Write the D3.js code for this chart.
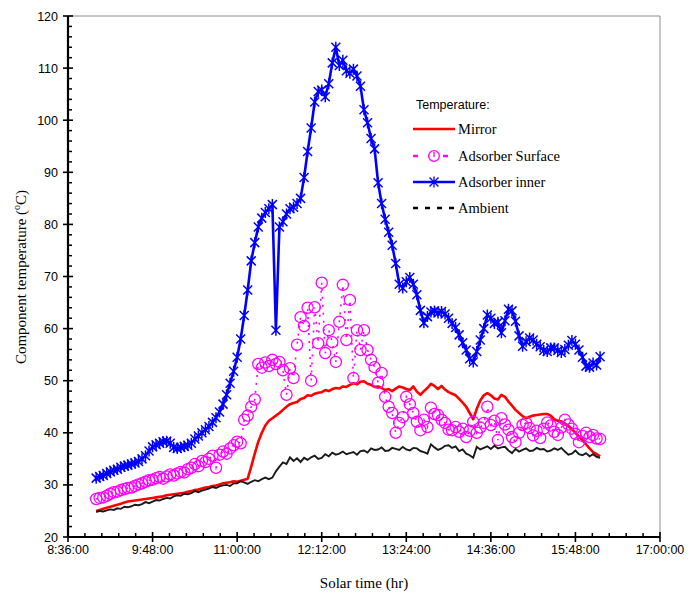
<!DOCTYPE html>
<html><head><meta charset="utf-8">
<script src="https://cdn.jsdelivr.net/npm/d3@7"></script>
<style>
html,body{margin:0;padding:0;background:#fff;}
svg{display:block;}
</style>
</head><body>
<svg id="chart" width="696" height="597"></svg>
<script>
// ---- data (minutes since midnight, °C) ----
const times = [540,543,546,549,552,555,558,561,564,567,570,573,576,579,582,585,588,591,594,597,
600,603,606,609,612,615,618,621,624,627,630,633,636,639,642,645,648,651,654,657,
660,663,666,669,672,675,678,681,684,687,690,693,696,699,702,705,708,711,714,717,
720,723,726,729,732,735,738,741,744,747,750,753,756,759,762,765,768,771,774,777,
780,783,786,789,792,795,798,801,804,807,810,813,816,819,822,825,828,831,834,837,
840,843,846,849,852,855,858,861,864,867,870,873,876,879,882,885,888,891,894,897,
900,903,906,909,912,915,918,921,924,927,930,933,936,939,942,945,948,951,954,957,
960,963,966,969];

const mirror = [25.0,25.2,25.4,25.6,25.8,26.0,26.2,26.4,26.6,26.8,26.9,27.0,27.1,27.2,27.3,27.4,27.5,27.6,27.7,27.8,
28.0,28.1,28.2,28.3,28.4,28.5,28.7,28.8,29.0,29.1,29.3,29.5,29.6,29.8,29.9,30.1,30.3,30.4,30.5,30.7,
30.6,30.8,31.0,31.2,33.5,36.0,38.3,40.0,41.4,42.3,42.8,43.3,43.8,44.4,45.0,45.5,45.7,45.9,46.5,46.7,
47.2,47.1,47.5,47.7,47.8,48.2,48.0,48.4,48.6,48.5,48.9,48.8,49.2,49.5,49.3,49.8,49.9,49.4,49.2,48.8,
48.9,48.6,48.2,48.4,48.0,48.5,48.9,48.7,48.4,48.2,48.9,47.9,47.3,48.0,48.6,49.4,49.0,48.4,49.0,48.3,
47.8,47.5,47.2,46.5,45.8,45.0,43.8,42.6,44.6,46.2,47.2,47.6,47.2,46.6,46.4,47.3,46.9,46.0,45.2,44.4,
43.8,43.2,42.8,43.1,43.3,43.4,43.5,43.6,43.6,43.3,42.6,42.3,42.2,41.8,41.3,40.7,40.0,39.3,38.6,37.8,
37.0,36.3,35.9,35.5];

const surface = [27.3,27.5,27.6,27.9,28.3,28.6,28.7,29.0,29.2,29.4,29.5,29.8,30.1,30.3,30.6,30.9,31.0,31.3,31.5,31.2,
31.6,32.0,31.8,32.2,32.5,32.4,33.0,33.3,34.0,33.6,34.6,34.4,35.0,35.6,33.3,35.8,36.4,36.0,37.0,37.6,
38.3,38.0,42.5,43.3,45.0,46.4,53.2,52.5,53.5,52.8,54.0,53.2,53.6,52.0,47.3,52.4,50.5,56.9,62.2,60.5,
64.0,50.0,64.1,57.2,68.8,55.3,59.7,57.4,53.6,61.3,68.4,57.8,65.5,50.5,59.7,55.9,59.7,55.9,54.0,52.6,
49.6,51.5,46.9,45.0,43.8,40.0,41.9,43.0,46.9,45.5,43.8,42.1,40.5,42.5,41.1,44.8,43.6,43.4,42.5,41.9,
40.6,40.5,41.1,40.2,40.8,39.2,40.4,42.1,40.0,41.0,41.9,45.0,41.5,42.3,38.6,42.8,41.6,40.6,39.2,38.2,
40.0,41.5,41.9,40.9,39.5,40.4,39.0,40.8,42.0,41.4,40.2,39.6,41.0,42.5,41.6,40.8,39.8,38.2,39.4,40.0,
39.2,39.6,38.9,38.8];

const inner = [31.3,31.6,31.8,32.2,32.5,32.8,33.0,33.4,33.6,33.8,34.0,34.2,34.5,35.0,35.6,36.5,37.3,37.7,38.0,38.3,
38.4,38.0,37.2,37.0,37.2,37.4,37.6,38.0,38.8,39.4,40.0,40.6,41.2,42.0,42.9,44.0,45.5,47.3,49.5,51.8,
54.5,58.0,62.5,67.4,73.0,76.5,79.5,81.2,82.3,83.0,83.8,59.7,79.5,80.5,82.0,83.0,83.3,84.0,85.0,89.0,
94.0,98.5,103.5,105.5,105.8,104.5,107.0,111.0,114.0,110.5,111.5,109.5,109.0,109.8,108.5,106.5,102.0,99.5,96.5,94.5,
88.0,84.0,81.0,78.5,76.0,72.5,68.5,67.8,69.0,69.8,68.5,66.5,63.5,61.1,62.3,63.2,63.4,63.0,63.3,62.8,
62.0,61.0,60.2,58.8,57.3,55.9,54.2,53.6,55.6,57.8,60.0,62.6,62.0,61.0,61.2,59.2,61.5,63.7,63.4,61.4,
58.6,56.6,57.5,58.2,57.8,57.0,56.5,55.8,55.6,56.3,56.3,55.8,55.4,56.0,56.8,57.7,57.0,55.9,54.5,52.8,
52.6,53.4,53.0,54.6];

const ambient = [24.8,25.0,24.9,25.1,25.3,25.2,25.5,25.4,25.8,25.7,25.9,26.2,26.1,26.3,26.7,26.5,26.8,27.1,27.0,27.3,
27.5,27.4,27.8,28.0,27.9,28.3,28.2,28.4,28.8,28.6,28.9,29.1,29.3,29.6,29.4,29.7,29.9,30.0,29.8,30.3,
30.3,30.7,30.5,30.2,30.6,30.9,30.7,31.1,31.4,31.1,31.4,32.6,33.5,34.3,34.0,35.3,34.6,35.1,34.4,35.2,
34.8,35.3,35.6,35.0,35.2,35.9,35.5,36.2,35.8,36.0,36.4,35.9,36.1,36.3,35.8,36.5,36.6,36.2,37.0,36.7,
36.8,37.2,36.5,36.6,37.1,36.9,36.7,37.3,36.8,36.6,37.1,37.0,36.5,36.3,36.0,37.8,37.2,36.7,37.0,37.5,
37.6,37.1,37.4,36.5,36.8,36.0,35.7,35.2,37.3,36.8,37.1,37.4,36.9,37.5,37.0,37.2,37.3,36.6,36.1,36.9,
36.4,36.7,37.0,36.5,36.6,37.1,36.8,36.9,36.4,36.6,37.0,36.7,37.1,36.4,35.8,36.0,36.6,35.9,35.7,36.1,
35.5,35.9,35.4,35.2];

const xTickValues = [516,588,660,732,804,876,948,1020];
const xTickLabels = ["8:36:00","9:48:00","11:00:00","12:12:00","13:24:00","14:36:00","15:48:00","17:00:00"];
const yTickValues = [20,30,40,50,60,70,80,90,100,110,120];
const seriesNames = ["Mirror","Adsorber Surface","Adsorber inner","Ambient"];

// ---- drawing ----
const svg = d3.select("#chart");
const L = 68, R = 660, T = 16, B = 537;
const x = d3.scaleLinear().domain([516,1020]).range([L,R]);
const y = d3.scaleLinear().domain([20,120]).range([B,T]);

// frame (top/right)
svg.append("line").attr("x1",L).attr("x2",R).attr("y1",T).attr("y2",T).attr("stroke","#8c8c8c").attr("stroke-width",1);
svg.append("line").attr("x1",R).attr("x2",R).attr("y1",T).attr("y2",B).attr("stroke","#8c8c8c").attr("stroke-width",1);

const mk = arr => times.map((t,i)=>({t, v:arr[i]}));
const line = d3.line().x(d=>x(d.t)).y(d=>y(d.v));

const plot = svg.append("g");

// Mirror
plot.append("path").datum(mk(mirror)).attr("d",line)
  .attr("fill","none").attr("stroke","#ff0000").attr("stroke-width",2.6).attr("stroke-linejoin","round");

// Adsorber surface
const sData = mk(surface);
plot.append("path").datum(sData).attr("d",line)
  .attr("fill","none").attr("stroke","#ff00ff").attr("stroke-width",1.6).attr("stroke-dasharray","2,6");
plot.append("g").selectAll("circle").data(sData).join("circle")
  .attr("cx",d=>x(d.t)).attr("cy",d=>y(d.v)).attr("r",5.6)
  .attr("fill","none").attr("stroke","#ff00ff").attr("stroke-width",1.3);

// Adsorber inner
const iData = mk(inner);
plot.append("path").datum(iData).attr("d",line)
  .attr("fill","none").attr("stroke","#0000ff").attr("stroke-width",2.6).attr("stroke-linejoin","round");
const star = "M-4.5,-4.5L4.5,4.5M-4.5,4.5L4.5,-4.5M0,-5.5L0,5.5";
plot.append("g").selectAll("path").data(iData).join("path")
  .attr("d",star).attr("transform",d=>`translate(${x(d.t)},${y(d.v)})`)
  .attr("fill","none").attr("stroke","#0000ff").attr("stroke-width",1.5);

// Ambient
plot.append("path").datum(mk(ambient)).attr("d",line)
  .attr("fill","none").attr("stroke","#1a1a1a").attr("stroke-width",1.9)
  .attr("stroke-linejoin","miter");

// axes
const ax = svg.append("g");
// minor ticks
const xMinor = d3.range(0,36).map(k=>516+k*14.4).filter(v=>!xTickValues.some(t=>Math.abs(t-v)<0.5));
ax.selectAll("line.xm").data(xMinor).join("line")
  .attr("x1",d=>x(d)).attr("x2",d=>x(d)).attr("y1",B-4).attr("y2",B).attr("stroke","#000").attr("stroke-width",1.5);
const yMinor = d3.range(20,121,2).filter(v=>v%10!==0);
ax.selectAll("line.ym").data(yMinor).join("line")
  .attr("x1",L).attr("x2",L+4).attr("y1",d=>y(d)).attr("y2",d=>y(d)).attr("stroke","#000").attr("stroke-width",1.5);
// major ticks
ax.selectAll("line.xM").data(xTickValues).join("line")
  .attr("x1",d=>x(d)).attr("x2",d=>x(d)).attr("y1",B-5).attr("y2",B+5).attr("stroke","#000").attr("stroke-width",1.6);
ax.selectAll("line.yM").data(yTickValues).join("line")
  .attr("x1",L-5).attr("x2",L+5).attr("y1",d=>y(d)).attr("y2",d=>y(d)).attr("stroke","#000").attr("stroke-width",1.6);
// axis lines
ax.append("line").attr("x1",L).attr("x2",L).attr("y1",T).attr("y2",B).attr("stroke","#000").attr("stroke-width",2.2);
ax.append("line").attr("x1",L).attr("x2",R).attr("y1",B).attr("y2",B).attr("stroke","#000").attr("stroke-width",2.2);

// tick labels
ax.selectAll("text.yl").data(yTickValues).join("text")
  .attr("x",L-10).attr("y",d=>y(d)+4.5).attr("text-anchor","end")
  .attr("font-family","Liberation Sans, Arial, sans-serif").attr("font-size",12.5).attr("fill","#000")
  .text(d=>d);
ax.selectAll("text.xl").data(xTickValues).join("text")
  .attr("x",d=>x(d)).attr("y",B+17).attr("text-anchor","middle")
  .attr("font-family","Liberation Sans, Arial, sans-serif").attr("font-size",12.5).attr("fill","#000")
  .text((d,i)=>xTickLabels[i]);

// axis titles
svg.append("text").attr("x",364).attr("y",588).attr("text-anchor","middle")
  .attr("font-family","Liberation Serif, Times New Roman, serif").attr("font-size",15).text("Solar time (hr)");
const yt = svg.append("text").attr("transform","translate(26,277) rotate(-90)").attr("text-anchor","middle")
  .attr("font-family","Liberation Serif, Times New Roman, serif").attr("font-size",15);
yt.append("tspan").text("Component temperature (");
yt.append("tspan").attr("font-size",10).attr("dy",-6).text("o");
yt.append("tspan").attr("dy",6).text("C)");

// legend
const lg = svg.append("g");
lg.append("text").attr("x",416).attr("y",109).attr("font-family","Liberation Sans, Arial, sans-serif")
  .attr("font-size",12.5).text("Temperature:");
const ly = [129,156,182,208];
const lx0 = 413, lx1 = 455, lxm = 434;
seriesNames.forEach((n,i)=>{
  lg.append("text").attr("x",458).attr("y",ly[i]+5).attr("font-family","Liberation Serif, Times New Roman, serif")
    .attr("font-size",14.5).text(n);
});
lg.append("line").attr("x1",lx0).attr("x2",lx1).attr("y1",ly[0]).attr("y2",ly[0]).attr("stroke","#ff0000").attr("stroke-width",2.6);
lg.append("line").attr("x1",lx0).attr("x2",lx1).attr("y1",ly[1]).attr("y2",ly[1]).attr("stroke","#ff00ff").attr("stroke-width",2.5).attr("stroke-dasharray","5,10");
lg.append("circle").attr("cx",lxm).attr("cy",ly[1]).attr("r",5.3).attr("fill","#fff").attr("stroke","#ff00ff").attr("stroke-width",1.3);
lg.append("line").attr("x1",lxm).attr("x2",lxm).attr("y1",ly[1]-4).attr("y2",ly[1]+1).attr("stroke","#ff00ff").attr("stroke-width",1.3);
lg.append("line").attr("x1",lx0).attr("x2",lx1).attr("y1",ly[2]).attr("y2",ly[2]).attr("stroke","#0000ff").attr("stroke-width",2.6);
lg.append("path").attr("d",star).attr("transform",`translate(${lxm},${ly[2]})`).attr("fill","none").attr("stroke","#0000ff").attr("stroke-width",1.3);
lg.append("line").attr("x1",lx0).attr("x2",lx1).attr("y1",ly[3]).attr("y2",ly[3]).attr("stroke","#000").attr("stroke-width",2.6).attr("stroke-dasharray","5,7");
</script>
</body></html>
